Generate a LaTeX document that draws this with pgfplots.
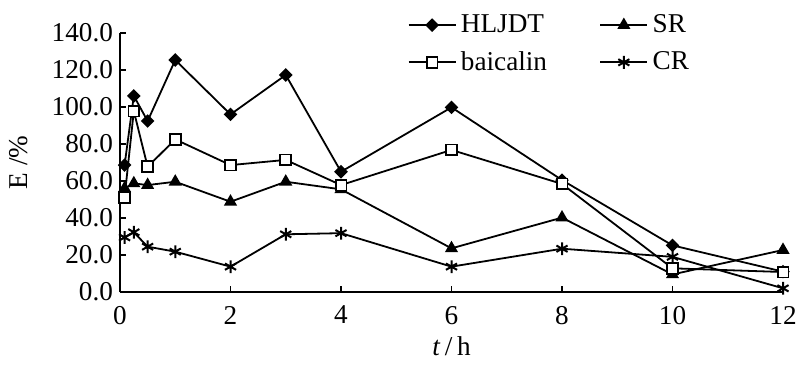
\documentclass[border=0pt]{standalone}
\usepackage{pgfplots}
\pgfplotsset{compat=1.18}
\usepackage{fontspec}
\setmainfont{Liberation Serif}
\newcommand{\bigf}{\fontsize{13.6}{16}\selectfont}
\begin{document}
\begin{tikzpicture}[font=\bigf]
\begin{axis}[
  scale only axis,
  width=331.5pt, height=129.5pt,
  xmin=0, xmax=12, ymin=0, ymax=140,
  axis x line=bottom, axis y line=left,
  axis line style={-, line width=0.9pt},
  tick align=inside,
  major tick length=3pt,
  tick style={line width=0.9pt, black},
  xtick={0,2,4,6,8,10,12},
  ytick={0,20,40,60,80,100,120,140},
  /pgf/number format/assume math mode=true,
  yticklabel style={/pgf/number format/.cd, fixed, fixed zerofill, precision=1},
  xticklabel style={/pgf/number format/.cd, fixed},
  xticklabel shift=3.5pt,
  tick label style={font=\bigf},
  label style={font=\bigf},
  xlabel={\textit{t}\,/\,h},
  ylabel={E /\%},
  ylabel shift=5pt,
  xlabel shift=-1pt,
  clip=false,
  every axis plot/.append style={line width=0.9pt, black},
  legend columns=2,
  legend cell align=left,
  legend style={draw=none, fill=none, inner sep=0pt, outer sep=0pt,
    at={(0.434,1.088)}, anchor=north west,
    font=\bigf,
    nodes={inner sep=2.2pt},
    /tikz/every even column/.append style={column sep=24pt},
    row sep=3.5pt},
  legend image code/.code={\draw[mark repeat=2,mark phase=2] plot coordinates {(0pt,0pt) (11.75pt,0pt) (23.5pt,0pt)};},
]
\addplot[mark=square*, mark size=1.95pt, mark options={fill=black, rotate=45}] coordinates {
(0.083,68.6) (0.25,106) (0.5,92.4) (1,125.4) (2,96) (3,117.3) (4,65) (6,99.8) (8,60.5) (10,25.2) (12,11)};
\addlegendentry{HLJDT}
\addplot[mark=triangle*, mark size=2.9pt, mark options={fill=black}] coordinates {
(0.083,56) (0.25,58.7) (0.5,57.8) (1,59.6) (2,48.8) (3,59.6) (4,55.5) (6,23.6) (8,40.2) (10,9.5) (12,22.7)};
\addlegendentry{SR}
\addplot[mark=square*, mark size=2.7pt, mark options={fill=white}] coordinates {
(0.083,51.2) (0.25,97.8) (0.5,67.7) (1,82.5) (2,68.6) (3,71.4) (4,57.8) (6,76.8) (8,58.4) (10,12.8) (12,10.8)};
\addlegendentry{baicalin}
\addplot[mark=asterisk, mark size=3.2pt, mark options={line width=1pt}] coordinates {
(0.083,29.5) (0.25,32.3) (0.5,24.5) (1,21.8) (2,13.7) (3,31.2) (4,31.8) (6,13.7) (8,23.4) (10,19) (12,2)};
\addlegendentry{CR}
\coordinate (ll) at (rel axis cs:0,0);
\coordinate (ur) at (rel axis cs:1,1);
\end{axis}
\pgfresetboundingbox
\path ([shift={(-60pt,-36pt)}]ll) rectangle ([shift={(9pt,16.5pt)}]ur);
\end{tikzpicture}
\end{document}
